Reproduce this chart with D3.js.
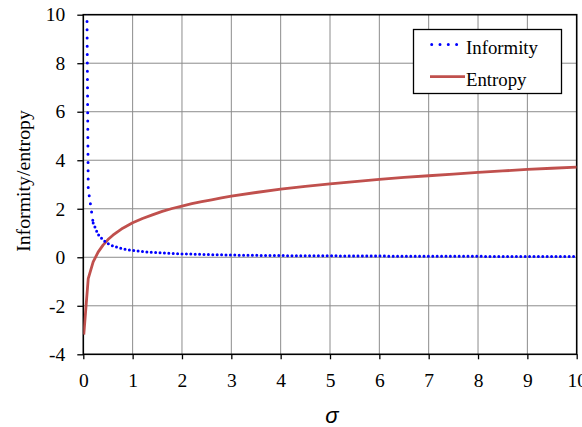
<!DOCTYPE html>
<html>
<head>
<meta charset="utf-8">
<script src="https://cdn.jsdelivr.net/npm/d3@7"></script>
<style>
  body { margin: 0; background: #fff; }
  svg { display: block; }
</style>
</head>
<body>
<svg width="582" height="427"></svg>
<script>
// sigma samples and the two series
const sigma = [0.01, 0.1, 0.2, 0.3, 0.4, 0.5, 0.6, 0.7, 0.8, 0.9, 1.0,
  1.2, 1.4, 1.6, 1.8, 2.0, 2.2, 2.4, 2.6, 2.8, 3.0,
  3.5, 4.0, 4.5, 5.0, 5.5, 6.0, 6.5, 7.0, 7.5, 8.0, 8.5, 9.0, 9.5, 10];
const informity = [28.2, 2.82, 1.41, 0.94, 0.71, 0.56, 0.47, 0.40, 0.35, 0.31, 0.28,
  0.24, 0.20, 0.18, 0.16, 0.14, 0.13, 0.12, 0.11, 0.10, 0.09,
  0.08, 0.07, 0.06, 0.06, 0.05, 0.05, 0.04, 0.04, 0.04, 0.04, 0.03, 0.03, 0.03, 0.03];
const entropy = [-3.19, -0.88, -0.19, 0.21, 0.50, 0.73, 0.91, 1.06, 1.20, 1.31, 1.42,
  1.60, 1.75, 1.89, 2.01, 2.11, 2.21, 2.29, 2.37, 2.45, 2.52,
  2.67, 2.81, 2.92, 3.03, 3.12, 3.21, 3.29, 3.36, 3.43, 3.50, 3.56, 3.62, 3.67, 3.72];
const xTicks = [0, 1, 2, 3, 4, 5, 6, 7, 8, 9, 10];
const yTicks = [-4, -2, 0, 2, 4, 6, 8, 10];
const seriesNames = ['Informity', 'Entropy'];

const pl = 83.3, pr = 576.7, pt = 14.7, pb = 354.3;
const serif = '"Liberation Serif", "Times New Roman", serif';

const svg = d3.select('svg');

const x = d3.scaleLinear().domain([0, 10]).range([pl, pr]);
const y = d3.scaleLinear().domain([-4, 10]).range([pb, pt]);

// grid
svg.append('g')
  .selectAll('line')
  .data(xTicks.slice(1, -1))
  .enter().append('line')
  .attr('x1', d => x(d)).attr('x2', d => x(d))
  .attr('y1', pt).attr('y2', pb)
  .attr('stroke', '#8c8c8c').attr('stroke-width', 1);

svg.append('g')
  .selectAll('line')
  .data(yTicks.slice(1, -1))
  .enter().append('line')
  .attr('x1', pl).attr('x2', pr)
  .attr('y1', d => y(d)).attr('y2', d => y(d))
  .attr('stroke', '#8c8c8c').attr('stroke-width', 1);

// axes (plain hyphen for negatives, like the original)
const fmt = d => String(d);
const xAxis = svg.append('g')
  .attr('transform', `translate(0,${pb})`)
  .call(d3.axisBottom(x).tickValues(xTicks).tickSize(5).tickPadding(14).tickFormat(fmt));
const yAxis = svg.append('g')
  .attr('transform', `translate(${pl},0)`)
  .call(d3.axisLeft(y).tickValues(yTicks).tickSize(6).tickPadding(12).tickFormat(fmt));

[xAxis, yAxis].forEach(g => {
  g.select('.domain').remove();
  g.selectAll('line').attr('stroke', '#000').attr('stroke-width', 1.3);
  g.selectAll('text')
    .attr('fill', '#000')
    .style('font-family', serif)
    .style('font-size', '19.5px');
});

// frame
svg.append('rect')
  .attr('x', pl).attr('y', pt)
  .attr('width', pr - pl).attr('height', pb - pt)
  .attr('fill', 'none').attr('stroke', '#000').attr('stroke-width', 1.6);

// clip to plot
svg.append('clipPath').attr('id', 'plot')
  .append('rect')
  .attr('x', pl).attr('y', pt)
  .attr('width', pr - pl).attr('height', pb - pt);

const pts = (vals) => sigma.map((s, i) => [s, vals[i]]);
const line = d3.line().x(d => x(d[0])).y(d => y(d[1]));

const plot = svg.append('g').attr('clip-path', 'url(#plot)');

plot.append('path')
  .datum(pts(entropy))
  .attr('d', line)
  .attr('fill', 'none')
  .attr('stroke', '#C0504D')
  .attr('stroke-width', 2.8)
  .attr('stroke-linejoin', 'round');

// steep head of the dotted line has wider spacing than the flat tail
const inf = pts(informity);
plot.append('path')
  .datum(inf.slice(0, 3))
  .attr('d', line)
  .attr('fill', 'none')
  .attr('stroke', '#0000FF')
  .attr('stroke-width', 3)
  .attr('stroke-linecap', 'round')
  .attr('stroke-dasharray', '0,8.3');
plot.append('path')
  .datum(inf.slice(2))
  .attr('d', line)
  .attr('fill', 'none')
  .attr('stroke', '#0000FF')
  .attr('stroke-width', 3)
  .attr('stroke-linecap', 'round')
  .attr('stroke-dasharray', '0,4.4');

// legend
const legend = svg.append('g');
legend.append('rect')
  .attr('x', 413.5).attr('y', 29.5)
  .attr('width', 148).attr('height', 64)
  .attr('fill', '#fff').attr('stroke', '#000').attr('stroke-width', 1.3);

legend.append('line')
  .attr('x1', 431.7).attr('x2', 457.5)
  .attr('y1', 44.5).attr('y2', 44.5)
  .attr('stroke', '#0000FF').attr('stroke-width', 3)
  .attr('stroke-linecap', 'round').attr('stroke-dasharray', '0,8.3');
legend.append('line')
  .attr('x1', 430).attr('x2', 465)
  .attr('y1', 76.7).attr('y2', 76.7)
  .attr('stroke', '#C0504D').attr('stroke-width', 2.8);

legend.selectAll('text')
  .data(seriesNames)
  .enter().append('text')
  .attr('x', 466)
  .attr('y', (d, i) => i === 0 ? 54 : 86)
  .style('font-family', serif)
  .style('font-size', '18.8px')
  .text(d => d);

// axis titles
svg.append('text')
  .attr('transform', 'translate(30,181) rotate(-90)')
  .attr('text-anchor', 'middle')
  .style('font-family', serif)
  .style('font-size', '19.8px')
  .text('Informity/entropy');

svg.append('text')
  .attr('x', 332)
  .attr('y', 423)
  .attr('text-anchor', 'middle')
  .style('font-family', '"Liberation Sans", Arial, sans-serif')
  .style('font-style', 'italic')
  .style('font-size', '22px')
  .text('σ');
</script>
</body>
</html>
